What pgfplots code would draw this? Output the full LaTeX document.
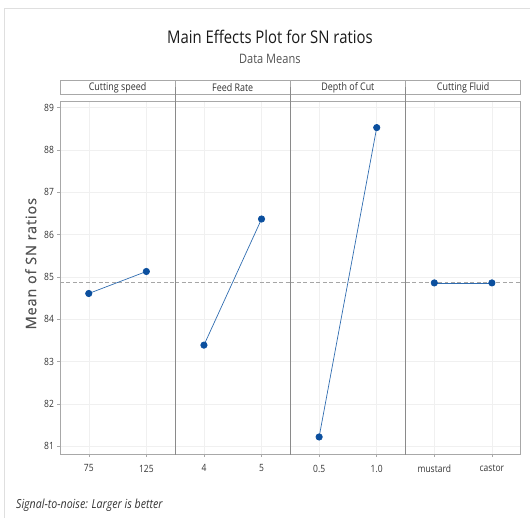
\documentclass[border=0pt]{standalone}
\usepackage{fontspec}
\setmainfont{Open Sans}[FakeStretch=0.85]
\newfontfamily\ylabfont{Open Sans}[LetterSpace=6, FakeBold=0.4]
\usepackage{pgfplots}
\pgfplotsset{compat=1.18}
\usepgfplotslibrary{groupplots}
\usetikzlibrary{calc}
\definecolor{ser}{HTML}{0B4F9E}
\definecolor{serline}{HTML}{2F6CB0}
\definecolor{frame}{HTML}{A8A8A8}
\definecolor{sep}{HTML}{8A8A8A}
\definecolor{txt}{HTML}{333333}
\begin{document}
\begin{tikzpicture}
\begin{groupplot}[
  group style={group size=4 by 1, horizontal sep=0pt, y descriptions at=edge left},
  scale only axis, width=115.25pt, height=354pt,
  xmin=0.5, xmax=2.5, ymin=80.8, ymax=89.16,
  ytick={81,82,83,84,85,86,87,88,89}, xtick={1,2},
  tick pos=left, tick align=outside, major tick length=2.5pt,
  tick style={frame, line width=0.5pt},
  grid=major, major grid style={gray!12, line width=0.5pt},
  axis line style={frame, line width=0.8pt},
  /pgf/number format/assume math mode=true,
  tick label style={font=\fontsize{10}{12}\selectfont, text=txt},
  yticklabel style={xshift=0pt},
  xticklabel style={yshift=-4pt},
  title style={at={(0.5,1)}, anchor=south, draw=frame, line width=0.8pt, fill=white,
    minimum width=115.25pt, minimum height=14pt, inner sep=0pt,
    font=\fontsize{10.5}{12}\selectfont, text=txt},
  every axis plot/.append style={line width=0.7pt},
]
\nextgroupplot[title={Cutting speed}, xticklabels={75,125},
  ylabel={\ylabfont\fontsize{14.5}{16}\selectfont Mean of SN ratios},
  ylabel style={at={(ticklabel cs:0.54)}, text=txt!85, yshift=1pt}]
\addplot[gray!70, dashed, dash pattern=on 4pt off 2.5pt, line width=0.8pt, forget plot] coordinates {(0.5,84.87) (2.5,84.87)};
\addplot[serline, mark=*, mark size=3.2pt, mark options={fill=ser, draw=ser}] coordinates {(1,84.61) (2,85.13)};
\nextgroupplot[title={Feed Rate}, xticklabels={4,5}, ytick style={draw=none}]
\addplot[gray!70, dashed, dash pattern=on 4pt off 2.5pt, line width=0.8pt, forget plot] coordinates {(0.5,84.87) (2.5,84.87)};
\addplot[serline, mark=*, mark size=3.2pt, mark options={fill=ser, draw=ser}] coordinates {(1,83.39) (2,86.37)};
\nextgroupplot[title={Depth of Cut}, xticklabels={0.5,1.0}, ytick style={draw=none}]
\addplot[gray!70, dashed, dash pattern=on 4pt off 2.5pt, line width=0.8pt, forget plot] coordinates {(0.5,84.87) (2.5,84.87)};
\addplot[serline, mark=*, mark size=3.2pt, mark options={fill=ser, draw=ser}] coordinates {(1,81.22) (2,88.53)};
\nextgroupplot[title={Cutting Fluid}, xticklabels={mustard,castor}, ytick style={draw=none}]
\addplot[gray!70, dashed, dash pattern=on 4pt off 2.5pt, line width=0.8pt, forget plot] coordinates {(0.5,84.87) (2.5,84.87)};
\addplot[serline, mark=*, mark size=3.2pt, mark options={fill=ser, draw=ser}] coordinates {(1,84.86) (2,84.86)};
\end{groupplot}
% panel separators
\foreach \c in {1,2,3}{
  \draw[sep, line width=1.1pt] ($(group c\c r1.south east)$) -- ($(group c\c r1.north east)+(0,14pt)$);
}
\coordinate (O) at (group c1r1.south west);
% titles
\node[font=\fontsize{17.5}{20}\selectfont, text=black!90] at ($(O)+(210pt,418pt)$) {Main Effects Plot for SN ratios};
\node[font=\fontsize{13}{15}\selectfont, text=txt!85] at ($(O)+(210pt,396pt)$) {Data Means};
\node[font=\fontsize{12.5}{14}\selectfont\itshape, text=txt, anchor=west, inner sep=0pt] at ($(O)+(-44pt,-51pt)$) {Signal-to-noise: Larger is better};
% outer border
\draw[gray!25, line width=0.6pt] ($(O)+(-56pt,-63pt)$) -- ($(O)+(-56pt,447pt)$) -- ($(O)+(470pt,447pt)$);
\path[use as bounding box] ($(O)+(-60pt,-63pt)$) rectangle ($(O)+(470pt,455pt)$);
\end{tikzpicture}
\end{document}
